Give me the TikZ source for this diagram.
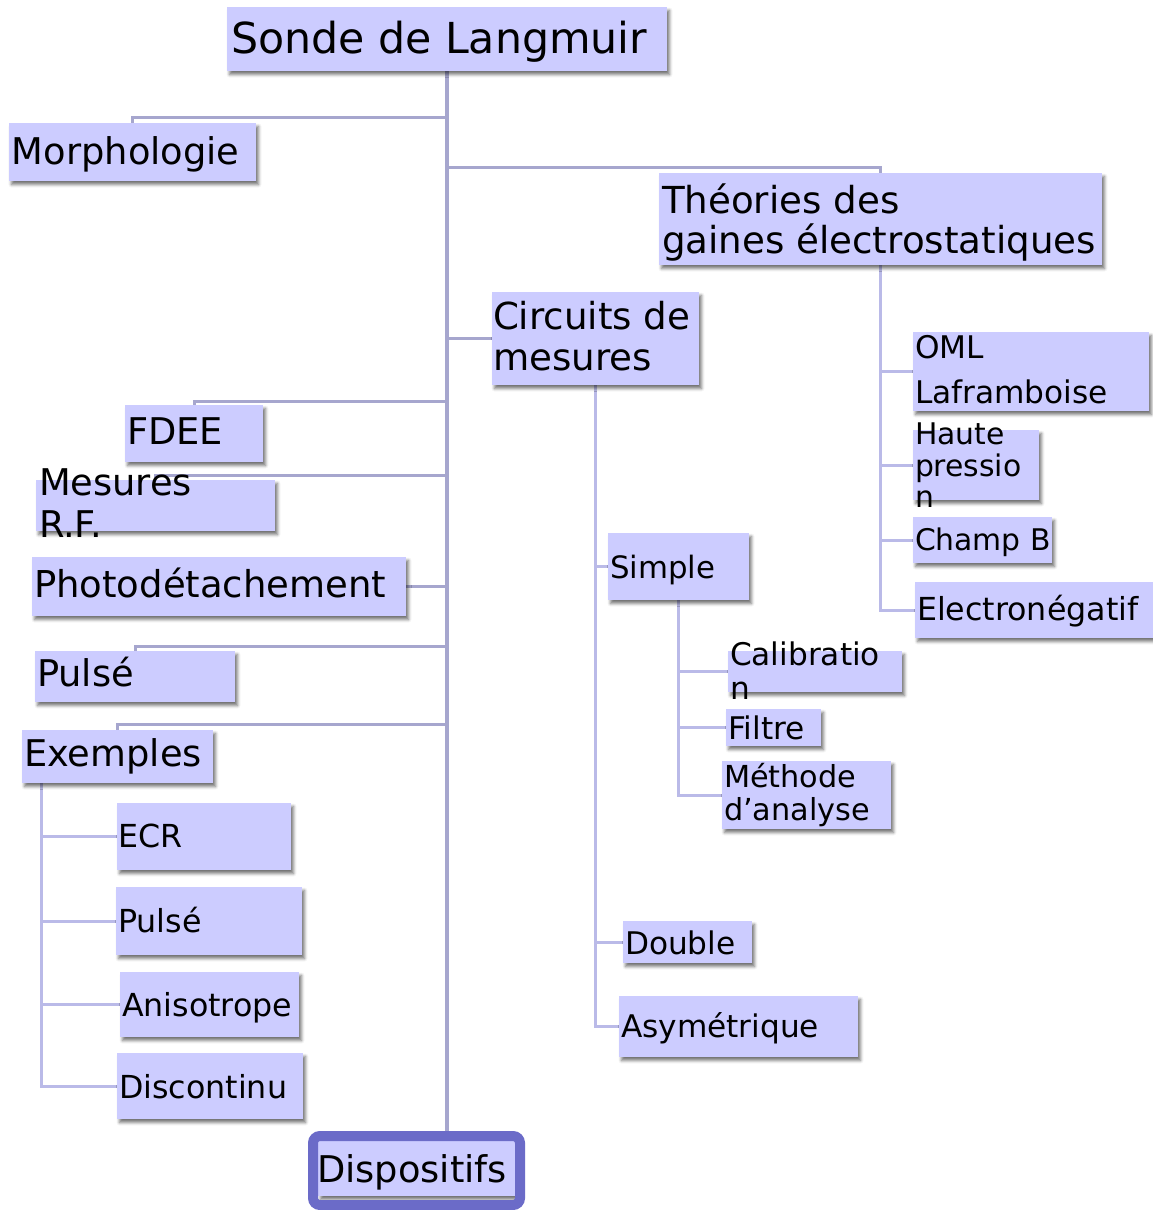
\documentclass[tikz,border=0pt]{standalone}
\usepackage{fontspec}
\setmainfont{DejaVu Sans}
\usetikzlibrary{shadows.blur,backgrounds,calc}

\definecolor{boxfill}{RGB}{204,204,255}
\definecolor{trunkline}{RGB}{166,166,206}
\definecolor{subline}{RGB}{186,186,232}
\definecolor{frame}{RGB}{107,107,200}

\tikzset{
  box/.style={rectangle, fill=boxfill, inner sep=0pt, outer sep=0pt,
    blur shadow={shadow xshift=2.5pt, shadow yshift=-3.5pt,
      shadow blur radius=3pt, shadow opacity=55}},
  lbl/.style={anchor=base west, inner sep=0pt, outer sep=0pt, text=black},
  conn/.style={draw=trunkline, line width=3pt},
  subconn/.style={draw=subline, line width=3pt},
}

% box given by its corners (x1,y1) (x2,y2), y growing downwards
\newcommand\bx[5]{%
  \pgfmathsetmacro\bxw{#4-#2}\pgfmathsetmacro\bxh{#5-#3}%
  \node[box, minimum width=\bxw pt, minimum height=\bxh pt] (#1)
    at ({(#2+#4)/2},{(#3+#5)/2}) {};}
% text line: name, size, x, baseline, text
\newcommand\lbl[5]{%
  \node[lbl, font=\fontsize{#2}{#2}\selectfont] (#1) at (#3,#4) {#5};}

\begin{document}
\begin{tikzpicture}[x=1pt, y=-1pt]
\useasboundingbox (0,0) rectangle (1153,1210);

% ---- boxes
\bx{sonde}{227}{7}{667}{71}
\bx{morph}{9}{123}{256}{181}
\bx{theo}{659}{173}{1102}{265}
\bx{circ}{492}{292}{699}{385}
\bx{oml}{913}{332}{1149}{411}
\bx{haute}{913}{430}{1039}{500}
\bx{champ}{913}{517}{1052}{563}
\bx{elec}{915}{582}{1155}{638}
\bx{fdee}{125}{405}{263}{462}
\bx{rf}{36}{480}{275}{531}
\bx{photo}{32}{557}{406}{616}
\bx{pulse}{35}{651}{235}{702}
\bx{exem}{22}{730}{213}{783}
\bx{ecr}{117}{803}{291}{870}
\bx{pulse2}{116}{887}{302}{955}
\bx{aniso}{120}{972}{299}{1037}
\bx{disc}{117}{1053}{303}{1119}
\bx{simple}{608}{533}{749}{600}
\bx{calib}{728}{651}{902}{692}
\bx{filtre}{726}{709}{821}{746}
\bx{meth}{722}{761}{891}{829}
\bx{double}{623}{921}{752}{963}
\bx{asym}{619}{996}{858}{1057}
\bx{disp}{318}{1141}{515}{1196}
\node[draw=frame, line width=10pt, rounded corners=7pt, inner sep=0pt,
      minimum width=207pt, minimum height=69pt] (dispframe) at (416.5,1170.5) {};

% ---- texts
\lbl{t-sonde}{42.7}{231}{53}{Sonde de Langmuir}
\lbl{t-morph}{36.8}{12}{164}{Morphologie}
\lbl{t-theo1}{37.2}{662}{213}{Théories des}
\lbl{t-theo2}{37.2}{662}{253}{gaines électrostatiques}
\lbl{t-circ1}{37.2}{493}{329}{Circuits de}
\lbl{t-circ2}{37.2}{493}{370}{mesures}
\lbl{t-oml1}{31.2}{915}{358}{OML}
\lbl{t-oml2}{31.2}{915}{403}{Laframboise}
\lbl{t-haute1}{29.8}{915}{444}{Haute}
\lbl{t-haute2}{29.8}{915}{476}{pressio}
\lbl{t-haute3}{29.8}{915}{507}{n}
\lbl{t-champ}{29.8}{915}{550}{Champ B}
\lbl{t-elec}{31.7}{917}{620}{Electronégatif}
\lbl{t-fdee}{36.8}{127}{444}{FDEE}
\lbl{t-rf1}{36.8}{39}{495}{Mesures}
\lbl{t-rf2}{36.8}{39}{537}{R.F.}
\lbl{t-photo}{37}{34}{597}{Photodétachement}
\lbl{t-pulse}{36.8}{37}{686}{Pulsé}
\lbl{t-exem}{36.8}{24}{766}{Exemples}
\lbl{t-ecr}{31.7}{118}{847}{ECR}
\lbl{t-pulse2}{31.7}{118}{932}{Pulsé}
\lbl{t-aniso}{31.7}{122}{1016}{Anisotrope}
\lbl{t-disc}{31.7}{119}{1098}{Discontinu}
\lbl{t-disp}{36.8}{317}{1182}{Dispositifs}
\lbl{t-simple}{30.8}{610}{578}{Simple}
\lbl{t-calib1}{31.2}{730}{665}{Calibratio}
\lbl{t-calib2}{31.2}{730}{699}{n}
\lbl{t-filtre}{31.2}{728}{739}{Filtre}
\lbl{t-meth1}{30.3}{724}{787}{Méthode}
\lbl{t-meth2}{30.3}{724}{820}{d’analyse}
\lbl{t-double}{31.2}{625}{954}{Double}
\lbl{t-asym}{31.2}{621}{1037}{Asymétrique}

% ---- connectors
\begin{scope}[on background layer]
  \coordinate (b-morph) at (0,117);
  \coordinate (b-theo)  at (0,167);
  \coordinate (b-fdee)  at (0,401);
  \coordinate (b-rf)    at (0,475);
  \coordinate (b-pulse) at (0,646);
  \coordinate (b-exem)  at (0,724);
  \draw[conn, line width=3.5pt] (sonde.south) -- (sonde.south |- dispframe.north);
  \draw[conn] (sonde.south |- b-morph) -| (morph.north);
  \draw[conn] (sonde.south |- b-theo)  -| (theo.north);
  \draw[conn] (sonde.south |- circ.west) -- (circ.west);
  \draw[conn] (sonde.south |- b-fdee)  -| (fdee.north);
  \draw[conn] (sonde.south |- b-rf)    -| (rf.north);
  \draw[conn] (sonde.south |- photo.east) -- (photo.east);
  \draw[conn] (sonde.south |- b-pulse) -| (pulse.north);
  \draw[conn] (sonde.south |- b-exem)  -| (exem.north);
  % examples
  \coordinate (exstem) at ($(exem.south west)+(19,0)$);
  \draw[subconn] (exstem) |- (ecr.west);
  \draw[subconn] (exstem) |- (pulse2.west);
  \draw[subconn] (exstem) |- (aniso.west);
  \draw[subconn] (exstem) |- (disc.west);
  % sheath theories
  \draw[subconn] (theo.south) |- (oml.west);
  \draw[subconn] (theo.south) |- (haute.west);
  \draw[subconn] (theo.south) |- (champ.west);
  \draw[subconn] (theo.south) |- (elec.west);
  % measuring circuits
  \draw[subconn] (circ.south) |- (simple.west);
  \draw[subconn] (circ.south) |- (double.west);
  \draw[subconn] (circ.south) |- (asym.west);
  % simple probe
  \draw[subconn] (simple.south) |- (calib.west);
  \draw[subconn] (simple.south) |- (filtre.west);
  \draw[subconn] (simple.south) |- (meth.west);
\end{scope}
\end{tikzpicture}
\end{document}
